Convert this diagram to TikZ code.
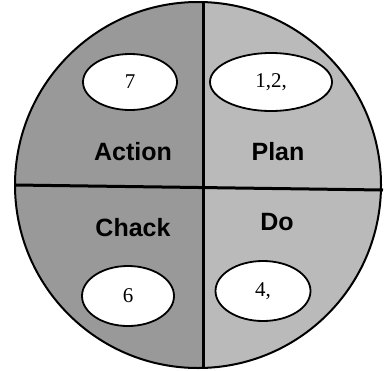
\documentclass[tikz,border=0pt]{standalone}
\usepackage{fontspec}
\setmainfont{Liberation Serif}
\setsansfont{Liberation Sans}
\usetikzlibrary{shapes.geometric,positioning}

\begin{document}
\begin{tikzpicture}[x=1pt, y=-1pt,
    rim/.style={draw=black, line width=2pt},
    divider/.style={draw=black, line width=3pt},
    oval/.style={draw=black, fill=white, ellipse, line width=1.8pt, inner sep=0pt, font=\fontsize{21}{23}\selectfont},
    phase/.style={font=\sffamily\bfseries\fontsize{25}{28}\selectfont}
]
    \useasboundingbox (0,0) rectangle (385,370);

    % Shaded wheel
    \begin{scope}
        \clip (198,185) circle [radius=183];
        \fill[black!40] (0,0) rectangle (203,370);
        \fill[black!27] (203,0) rectangle (385,370);
    \end{scope}
    \draw[rim] (198,185) circle [radius=183];

    % Dividers
    \coordinate (top) at (203,2);
    \coordinate (bottom) at (203,368);
    \coordinate (left) at (15,185);
    \coordinate (right) at (383,190);
    \draw[divider] (top) -- (bottom);
    \draw[divider] (left) -- (right);

    % Step ovals
    \node[oval, minimum width=94pt, minimum height=56pt] (act) at (130,82) {7};
    \node[oval, minimum width=122pt, minimum height=58pt] (plan) at (271,82) {1,2,};
    \node[oval, minimum width=92pt, minimum height=60pt] (chk) at (128,296) {6};
    \node[oval, minimum width=95pt, minimum height=60pt] (do) at (263,291) {4,};

    % Phase labels
    \node[phase] (actlbl) at (133,152) {Action};
    \node[phase] (planlbl) at (278,152) {Plan};
    \node[phase] (chklbl) at (133,228) {Chack};
    \node[phase] (dolbl) at (277,222) {Do};
\end{tikzpicture}
\end{document}
